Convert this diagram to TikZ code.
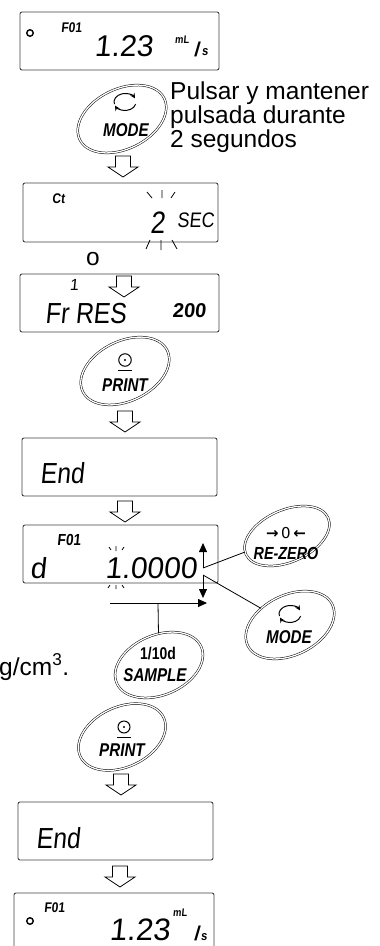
\documentclass[tikz,border=0pt]{standalone}
\usepackage{fontspec}
\setmainfont{Liberation Sans}
\newfontfamily\segdig[FakeSlant=0.1]{Liberation Sans}
\newfontfamily\seglet[FakeSlant=0.1,FakeStretch=0.85]{Liberation Sans}
\newfontfamily\btnfont[FakeStretch=0.82]{Liberation Sans}
\newfontfamily\symfont{DejaVu Sans}
\usetikzlibrary{arrows.meta,shapes.geometric}
\newcommand\setfs[1]{\fontsize{#1}{#1}\selectfont}
\begin{document}
\begin{tikzpicture}[x=1pt,y=-1pt,
 lcd/.style={draw=black!75, line width=0.9pt, rounded corners=2pt, inner sep=0pt},
 seg/.style={inner sep=0pt, font=\segdig},
 btn/.style={ellipse, draw, double, double distance=1.3pt, line width=0.5pt, inner sep=0pt},
 btxt/.style={inner sep=0pt, font={\btnfont\bfseries\itshape\setfs{18.5}}},
 blink/.style={line width=0.8pt},
 ptr/.style={line width=0.8pt},
 tip/.style={-{Triangle[length=9pt,width=8pt]}},
 icon/.style={line width=1pt, -{Stealth[length=5pt,width=5pt]}},
 lbl/.style={inner sep=0pt, font={\fontsize{24.5}{21.5}\selectfont}},
 harrow/.pic={\draw[fill=white, line width=0.8pt] (-7.5,0) -- (7.5,0) -- (7.5,11) -- (15,11) -- (0,21) -- (-15,11) -- (-7.5,11) -- cycle;}
]
\useasboundingbox (0,0) rectangle (380,946);

% ---------- display 1
\node[lcd, minimum width=199pt, minimum height=58pt] (disp1) at (119.5,41) {};
\node[circle, draw, line width=1.4pt, minimum size=6.5pt, inner sep=0pt] (d1dot) at (30,33) {};
\node[seg, font={\seglet\bfseries\setfs{14}}, anchor=base west] (d1f) at (61,32) {F01};
\node[seg, font={\segdig\setfs{30}}, anchor=base east] (d1v) at (153,56) {1.23};
\node[seg, font={\seglet\bfseries\setfs{11}}] (d1m) at (182,40) {mL};
\node[seg, font={\segdig\bfseries\setfs{20}}] (d1s) at (197,49) {/};
\node[seg, font={\seglet\bfseries\setfs{13}}, anchor=base] (d1t) at (205,55) {s};

% ---------- MODE button 1
\node[btn, minimum width=94pt, minimum height=60pt, rotate=26] (mode1) at (122,119) {};
\coordinate (m1i) at (125,102);
\draw[icon] (m1i) ++(-195:11 and 8.5) arc[start angle=-195, end angle=-25, x radius=11, y radius=8.5];
\draw[icon] (m1i) ++(15:11 and 8.5) arc[start angle=15, end angle=155, x radius=11, y radius=8.5];
\node[btxt] (mode1t) at (126,130) {MODE};
\node[lbl, anchor=north west, align=left] (hold) at (170,82) {Pulsar y mantener\\pulsada durante\\2 segundos};

\pic at (123,156) {harrow};

% ---------- display 2
\node[lcd, minimum width=195pt, minimum height=59pt] (disp2) at (120.5,212.5) {};
\node[seg, font={\seglet\bfseries\setfs{14}}, anchor=base west] (d2c) at (52,203) {Ct};
\node[seg, font={\seglet\setfs{31}}, anchor=base east] (d2v) at (165,233) {2};
\node[seg, font={\seglet\setfs{21}}, anchor=base west] (d2u) at (177,227) {SEC};
\draw[blink] (147,192) -- (152,198) (162,190) -- (162,198) (175,192) -- (171,198)
             (150,240) -- (146,249) (161,240) -- (161,250) (172,240) -- (177,249);

\node[lbl, anchor=base] (or) at (93,265) {o};

% ---------- display 3
\node[lcd, minimum width=199pt, minimum height=58pt] (disp3) at (119.5,303) {};
\node[seg, font={\segdig\setfs{16}}, anchor=base] (d3i) at (74,290) {1};
\node[seg, font={\seglet\setfs{29}}, anchor=base west] (d3v) at (45,323) {Fr RES};
\node[seg, font={\segdig\bfseries\setfs{20}}, anchor=base east] (d3n) at (206,317) {200};
\pic at (124,276) {harrow};

% ---------- PRINT button 1
\node[btn, minimum width=94pt, minimum height=60pt, rotate=26] (print1) at (125,371) {};
\node[circle, draw, line width=1pt, minimum size=12.5pt, inner sep=0pt] (p1c) at (125,360) {};
\fill (p1c.center) circle (1.2);
\draw[line width=1.3pt] (118,370.5) -- (132,370.5);
\node[btxt] (p1t) at (125,385) {PRINT};

\pic at (125,411) {harrow};

% ---------- display 4
\node[lcd, minimum width=195pt, minimum height=58pt] (disp4) at (119.5,467) {};
\node[seg, font={\seglet\setfs{29}}, anchor=base west] (d4v) at (40,483) {End};

\pic at (125,501) {harrow};

% ---------- display 5
\node[lcd, minimum width=195pt, minimum height=58pt] (disp5) at (120.5,554) {};
\node[seg, font={\seglet\bfseries\setfs{16}}, anchor=base west] (d5f) at (57,545) {F01};
\node[seg, font={\segdig\setfs{29}}, anchor=base west] (d5d) at (30,578) {d};
\node[seg, font={\segdig\setfs{30}}, anchor=base east] (d5v) at (197,578) {1.0000};
\draw[blink] (109,547) -- (111,550) (116,546) -- (116,551) (124,547) -- (122,550)
             (110,585) -- (108,588) (116,585) -- (116,589) (122,585) -- (124,588);

% ---------- RE-ZERO button
\node[btn, minimum width=90pt, minimum height=52pt, rotate=24] (rezero) at (287,536) {};
\node[inner sep=0pt, font={\symfont\setfs{15}}] (rz1) at (286,533) {\textbf{→}\,0\,\textbf{←}};
\node[btxt, font={\btnfont\bfseries\itshape\setfs{17.5}}] (rz2) at (286,553) {RE-ZERO};

% ---------- MODE button 2
\node[btn, minimum width=94pt, minimum height=60pt, rotate=26] (mode2) at (290,625) {};
\coordinate (m2i) at (290,614);
\draw[icon] (m2i) ++(-195:11 and 8.5) arc[start angle=-195, end angle=-25, x radius=11, y radius=8.5];
\draw[icon] (m2i) ++(15:11 and 8.5) arc[start angle=15, end angle=155, x radius=11, y radius=8.5];
\node[btxt] (mode2t) at (289,637) {MODE};

% ---------- pointers
\coordinate (upb) at (203,568);
\coordinate (upt) at (203,543);
\coordinate (dnt) at (203,575);
\coordinate (dnb) at (203,598);
\draw[ptr, tip] (upb) -- (upt);
\draw[ptr, tip] (dnt) -- (dnb);
\draw[ptr] (upb) -- (rezero);
\draw[ptr] (dnt) -- (mode2);

% ---------- SAMPLE button
\node[btn, minimum width=92pt, minimum height=60pt, rotate=23] (sample) at (159,665) {};
\node[inner sep=0pt, font={\btnfont\bfseries\setfs{17}}] (s1) at (158,654) {1/10d};
\node[btxt] (s2) at (155,675) {SAMPLE};

\coordinate (hl) at (110,603);
\coordinate (hr) at (207,603);
\coordinate (hj) at (158,603);
\draw[ptr, tip] (hl) -- (hr);
\draw[ptr] (hj) -- (sample);

\node[lbl, anchor=base west] (gcm) at (-1,675) {g/cm\textsuperscript{3}.};

% ---------- PRINT button 2
\node[btn, minimum width=92pt, minimum height=60pt, rotate=25] (print2) at (122,737) {};
\node[circle, draw, line width=1pt, minimum size=12pt, inner sep=0pt] (p2c) at (124,727) {};
\fill (p2c.center) circle (1.2);
\draw[line width=1.3pt] (117,737.5) -- (131,737.5);
\node[btxt] (p2t) at (122,750) {PRINT};

\pic at (121,774) {harrow};

% ---------- display 6
\node[lcd, minimum width=195pt, minimum height=58pt] (disp6) at (115.5,831) {};
\node[seg, font={\seglet\setfs{29}}, anchor=base west] (d6v) at (36,848) {End};

\pic at (120,866) {harrow};

% ---------- display 7
\node[lcd, minimum width=200pt, minimum height=72pt] (disp7) at (114,929) {};
\node[circle, draw, line width=1.4pt, minimum size=6.5pt, inner sep=0pt] (d7dot) at (30,921) {};
\node[seg, font={\seglet\bfseries\setfs{14}}, anchor=base west] (d7f) at (44,912) {F01};
\node[seg, font={\segdig\setfs{31}}, anchor=base east] (d7v) at (170,940) {1.23};
\node[seg, font={\seglet\bfseries\setfs{11}}] (d7m) at (180,913) {mL};
\node[seg, font={\segdig\bfseries\setfs{20}}] (d7s) at (197,933) {/};
\node[seg, font={\seglet\bfseries\setfs{13}}, anchor=base] (d7t) at (204,940) {s};
\end{tikzpicture}
\end{document}
